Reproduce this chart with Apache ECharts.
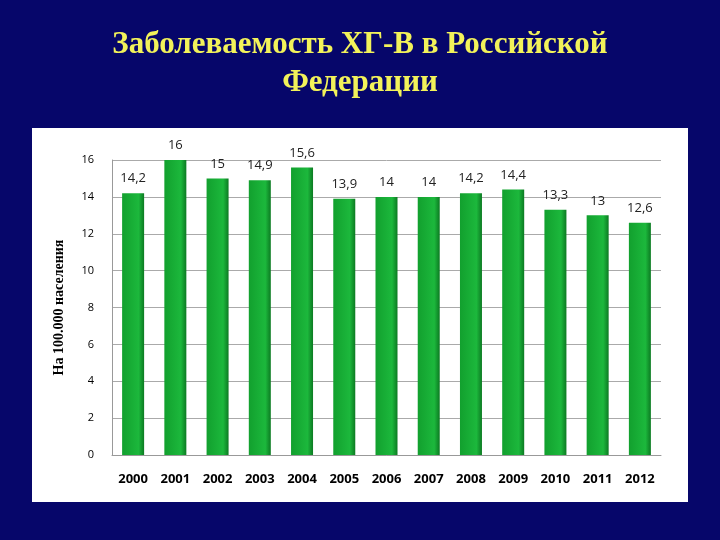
<!DOCTYPE html>
<html><head><meta charset="utf-8">
<script src="https://cdn.jsdelivr.net/npm/echarts@6/dist/echarts.min.js"></script>
<style>html,body{margin:0;padding:0;background:#06066a;}#c{width:720px;height:540px;}</style>
</head><body><div id="c"></div>
<script>
const years = ['2000','2001','2002','2003','2004','2005','2006','2007','2008','2009','2010','2011','2012'];
const values = [14.2,16,15,14.9,15.6,13.9,14,14,14.2,14.4,13.3,13,12.6];
const labels = ['14,2','16','15','14,9','15,6','13,9','14','14','14,2','14,4','13,3','13','12,6'];
const chart = echarts.init(document.getElementById('c'));
chart.setOption({
  backgroundColor:'#06066a',
  graphic:[
    {type:'rect',shape:{x:32,y:128,width:656,height:374},style:{fill:'#ffffff'},z:-1},
    {type:'text',left:'center',top:26,style:{text:'Заболеваемость ХГ-В в Российской\nФедерации',fill:'#f2f25a',font:'bold 31px "Liberation Serif", serif',textAlign:'center',lineHeight:38}}
  ],
  grid:{left:112,right:59,top:160,bottom:85},
  xAxis:{type:'category',data:years,axisTick:{show:false},
    axisLine:{lineStyle:{color:'#999'}},
    axisLabel:{color:'#000',fontWeight:'bold',fontSize:13,fontFamily:'"Open Sans",sans-serif',margin:18}},
  yAxis:{type:'value',min:0,max:16,interval:2,
    name:'На 100.000 населения',nameLocation:'middle',nameGap:46,
    nameTextStyle:{color:'#000',fontWeight:'bold',fontSize:14,fontFamily:'"Liberation Serif",serif'},
    axisLine:{show:true,lineStyle:{color:'#999'}},
    axisLabel:{color:'#000',fontSize:11,fontFamily:'"Open Sans",sans-serif',margin:18},
    splitLine:{lineStyle:{color:'#aaa'}}},
  series:[{type:'bar',data:values,barWidth:22,
    itemStyle:{color:new echarts.graphic.LinearGradient(0,0,1,0,[
      {offset:0,color:'#12a02e'},{offset:0.75,color:'#1cb83c'},{offset:1,color:'#0c7a22'}])},
    label:{show:true,position:'top',distance:8,formatter:p=>labels[p.dataIndex],
      color:'#222',fontSize:13,fontFamily:'"Open Sans",sans-serif'}}]
});
</script></body></html>
